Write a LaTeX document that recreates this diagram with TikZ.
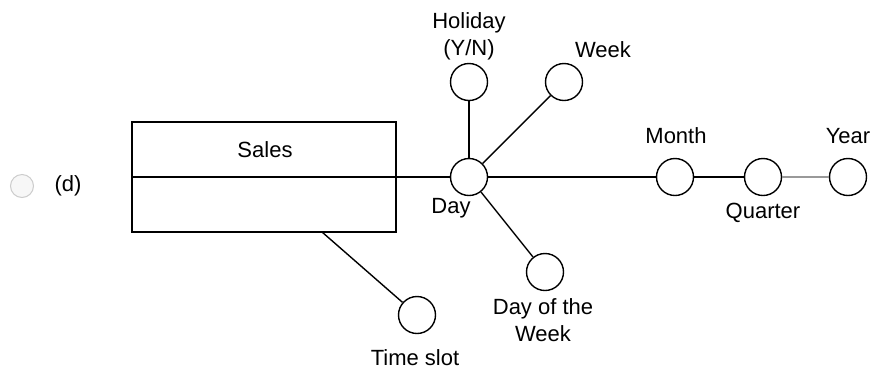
\documentclass[tikz,border=0pt]{standalone}
\usepackage{fontspec}
\setmainfont{Liberation Sans}
\usetikzlibrary{positioning}
\tikzset{
    attr/.style={circle,draw,line width=1.4pt,minimum size=37pt,inner sep=0pt},
    lbl/.style={inner sep=0pt,align=center,font=\fontsize{22}{27}\selectfont}
}
\begin{document}
\begin{tikzpicture}[x=1pt,y=-1pt,line width=1.4pt]
            \useasboundingbox (0,0) rectangle (872,376);
            % option marker
            \node[circle,draw=black!20,fill=black!3,line width=1pt,minimum size=23pt,inner sep=0pt] (radio) at (22,186) {};
            \node[lbl] (opt) at (68,186) {(d)};
            % fact table
            \node[draw,minimum width=264pt,minimum height=110pt,inner sep=0pt] (sales) at (264,177) {};
            \node[lbl] (salesname) at (265,150) {Sales};
            \coordinate (slot) at (322,232);
            % dimensions
            \node[attr] (day) at (469,177) {};
            \node[attr] (holiday) at (469,82) {};
            \node[attr] (week) at (564,82) {};
            \node[attr] (dow) at (545,272) {};
            \node[attr] (month) at (675,177) {};
            \node[attr] (quarter) at (763,177) {};
            \node[attr] (year) at (848,177) {};
            \node[attr] (timeslot) at (417,315) {};
            % labels
            \node[lbl] (daytxt) at (451,208) {Day};
            \node[lbl] (holidaytxt) at (469,36) {Holiday\\(Y/N)};
            \node[lbl] (weektxt) at (603,50) {Week};
            \node[lbl] (dowtxt) at (543,320) {Day of the\\Week};
            \node[lbl] (monthtxt) at (676,136) {Month};
            \node[lbl] (quartertxt) at (763,213) {Quarter};
            \node[lbl] (yeartxt) at (848,136) {Year};
            \node[lbl] (timeslottxt) at (415,358) {Time slot};
            % links
            \draw (sales.west) -- (day);
            \draw (day) -- (holiday);
            \draw (day) -- (week);
            \draw (day) -- (dow);
            \draw (day) -- (month);
            \draw (month) -- (quarter);
            \draw[black!40,line width=2.4pt] (quarter) -- (year);
            \draw (slot) -- (timeslot);
\end{tikzpicture}
\end{document}
